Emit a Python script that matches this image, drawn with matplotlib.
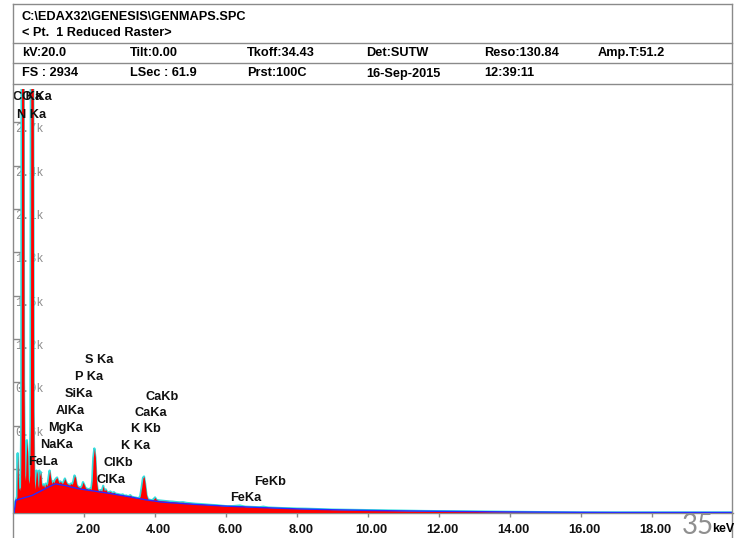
import matplotlib
matplotlib.use('Agg')
import matplotlib.pyplot as plt
from matplotlib.lines import Line2D
from matplotlib.transforms import ScaledTranslation, blended_transform_factory

# ---------------- data ----------------
energy = [0.00, 0.04, 0.06, 0.09, 0.12, 0.13, 0.14, 0.15, 0.17, 0.20, 0.22, 0.24, 0.25, 0.28, 0.31,
          0.32, 0.34, 0.36, 0.38, 0.40, 0.42, 0.44, 0.46, 0.48, 0.50, 0.51, 0.54, 0.58, 0.59, 0.61,
          0.63, 0.65, 0.67, 0.69, 0.71, 0.73, 0.75, 0.77, 0.79, 0.81, 0.84, 0.87, 0.90, 0.93, 0.96,
          0.99, 1.02, 1.04, 1.07, 1.10, 1.13, 1.16, 1.19, 1.22, 1.25, 1.28, 1.31, 1.34, 1.37, 1.40,
          1.43, 1.47, 1.50, 1.53, 1.56, 1.60, 1.64, 1.68, 1.71, 1.74, 1.77, 1.80, 1.83, 1.87, 1.91,
          1.95, 1.98, 2.01, 2.05, 2.09, 2.13, 2.17, 2.21, 2.24, 2.27, 2.30, 2.33, 2.36, 2.39, 2.43,
          2.47, 2.51, 2.55, 2.58, 2.62, 2.66, 2.70, 2.75, 2.80, 2.85, 2.90, 2.95, 3.00, 3.05, 3.10,
          3.15, 3.20, 3.25, 3.31, 3.36, 3.42, 3.48, 3.54, 3.59, 3.63, 3.67, 3.70, 3.73, 3.77, 3.81,
          3.86, 3.91, 3.96, 4.01, 4.05, 4.10, 4.18, 4.26, 4.34, 4.42, 4.50, 4.60, 4.70, 4.80, 4.90,
          5.00, 5.15, 5.30, 5.45, 5.60, 5.75, 5.90, 6.05, 6.20, 6.40, 6.55, 6.75, 6.95, 7.06, 7.20,
          7.40, 7.60, 7.80, 8.00, 8.25, 8.50, 8.75, 9.00, 9.25, 9.50, 9.80, 10.10, 10.40, 10.80, 11.20,
          11.60, 12.00, 12.50, 13.00, 13.50, 14.00, 14.50, 15.00, 15.50, 16.00, 20.48]
counts = [0, 0, 70, 85, 110, 300, 410, 300, 160, 175, 150, 600, 3100, 3400, 3100,
          900, 260, 220, 380, 500, 420, 230, 200, 260, 600, 3000, 3500, 3000, 700, 220,
          160, 230, 290, 270, 190, 170, 290, 250, 280, 200, 180, 195, 170, 200, 185,
          205, 260, 290, 240, 200, 215, 205, 225, 235, 242, 220, 205, 215, 208, 200,
          212, 235, 215, 200, 195, 190, 200, 195, 220, 256, 240, 195, 180, 175, 170,
          185, 210, 195, 170, 165, 160, 165, 160, 220, 380, 443, 380, 220, 160, 150,
          155, 148, 185, 150, 160, 142, 140, 145, 135, 140, 130, 128, 125, 122, 125,
          115, 118, 110, 120, 108, 105, 102, 98, 110, 170, 240, 249, 200, 120, 92,
          88, 85, 90, 104, 88, 84, 82, 80, 78, 76, 75, 72, 70, 71, 66,
          64, 60, 58, 55, 52, 50, 46, 43, 44, 48, 40, 38, 36, 40, 34,
          32, 30, 29, 27, 26, 24, 22, 20, 19, 18, 17, 16, 14, 13, 11,
          10, 9, 8, 7, 5, 4, 3, 2, 1, 0, 0]

bg_energy = [0.04, 0.09, 0.30, 0.55, 0.80, 1.00, 1.20, 1.50, 1.86, 2.30, 2.80, 3.30, 3.74,
             4.20, 5.00, 6.00, 7.00, 8.00, 9.00, 10.00, 12.00, 14.00, 16.00, 17.00, 20.48]
bg_counts = [0, 85, 100, 118, 150, 175, 198, 185, 164, 148, 129, 108, 88,
             72, 58, 44, 34, 25, 19, 14, 8, 4, 1, 0, 0]

peak_names = ['C Ka', 'O Ka', 'N Ka', 'FeLa', 'NaKa', 'MgKa', 'AlKa', 'SiKa', 'P Ka', 'S Ka',
              'ClKa', 'ClKb', 'K Ka', 'K Kb', 'CaKa', 'CaKb', 'FeKa', 'FeKb']
peak_energy = [0.277, 0.525, 0.392, 0.705, 1.041, 1.253, 1.486, 1.739, 2.013, 2.307,
               2.621, 2.815, 3.312, 3.589, 3.690, 4.012, 6.404, 7.058]
label_level = [2875, 2875, 2751, 349, 467, 585, 702, 820, 938, 1055,
               225, 343, 460, 578, 689, 799, 100, 211]

ytick_vals = [300, 600, 900, 1200, 1500, 1800, 2100, 2400, 2700]
ytick_labels = ['0.3k', '0.6k', '0.9k', '1.2k', '1.5k', '1.8k', '2.1k', '2.4k', '2.7k']
xtick_vals = [2, 4, 6, 8, 10, 12, 14, 16, 18]
xtick_labels = ['2.00', '4.00', '6.00', '8.00', '10.00', '12.00', '14.00', '16.00', '18.00']

title_lines = ['C:\\EDAX32\\GENESIS\\GENMAPS.SPC', '< Pt.  1 Reduced Raster>']
row1 = ['kV:20.0', 'Tilt:0.00', 'Tkoff:34.43', 'Det:SUTW', 'Reso:130.84', 'Amp.T:51.2']
row2 = ['FS : 2934', 'LSec : 61.9', 'Prst:100C', '16-Sep-2015', '12:39:11']
full_scale = 2934

# ---------------- layout ----------------
W, H = 740, 538
fig = plt.figure(figsize=(7.4, 5.38), dpi=100)
def fx(px): return px / W
def fy(py): return 1 - py / H

GRAY = '#8a8a8a'
SANS = ['Liberation Sans', 'DejaVu Sans']
HDR = 9.2

ax = fig.add_axes([fx(12.7), fy(513.2), (733 - 12.7) / W, (513.2 - 88.5) / H])
ax.set_xlim(0, 20.29)
ax.set_ylim(-5, full_scale)
for s in ['top', 'right', 'left']:
    ax.spines[s].set_visible(False)
ax.spines['bottom'].set_color(GRAY)
ax.spines['bottom'].set_linewidth(1.0)
ax.patch.set_alpha(0)

# spectrum
ax.plot(energy, counts, color='#33dddd', lw=1.6, zorder=2)
ax.fill_between(energy, 0, counts, color='#ff0000', lw=0, zorder=3)
ax.plot(bg_energy, bg_counts, color='#2a2aff', lw=1.0, zorder=4)

# y ticks
ax.set_yticks(ytick_vals)
ax.tick_params(axis='y', direction='in', length=5.5, width=1, color=GRAY, labelleft=False)
tr = blended_transform_factory(ax.transAxes, ax.transData)
for v, lab in zip(ytick_vals, ytick_labels):
    ax.text(0.003, v - 6, lab, transform=tr, va='top', ha='left', fontsize=8.6,
            family=['Liberation Mono', 'DejaVu Sans Mono'], color='#8c8c8c', zorder=1)

# x ticks
ax.set_xticks(xtick_vals)
ax.set_xticklabels(xtick_labels)
ax.tick_params(axis='x', direction='out', length=3, width=1, color=GRAY, pad=4.5)
for lab in ax.get_xticklabels():
    lab.set_fontsize(9.3)
    lab.set_fontweight('bold')
    lab.set_family(SANS)
    lab.set_color('#111111')
    lab.set_transform(lab.get_transform() + ScaledTranslation(4 / 100, 0, fig.dpi_scale_trans))

# peak labels
for name, e, lv in zip(peak_names, peak_energy, label_level):
    ax.annotate(name, xy=(e, lv), xytext=(-9.5, 0), textcoords='offset pixels',
                ha='left', va='center', fontsize=9.2, fontweight='bold', family=SANS,
                color='#111111', annotation_clip=False, zorder=6)

# frame lines
def hline(y, x0, x1):
    fig.add_artist(Line2D([fx(x0), fx(x1)], [fy(y), fy(y)], color=GRAY, lw=1.0))
def vline(x, y0, y1):
    fig.add_artist(Line2D([fx(x), fx(x)], [fy(y0), fy(y1)], color=GRAY, lw=1.0))
hline(3.5, 12.7, 732)
hline(42.5, 12.7, 732)
hline(62.5, 12.7, 732)
hline(83.5, 12.7, 732)
vline(12.7, 3.5, 538)
vline(732, 3.5, 538)

# header text
fig.text(fx(22), fy(17), title_lines[0], fontsize=HDR, fontweight='bold', family=SANS, va='center')
fig.text(fx(22), fy(33.5), title_lines[1], fontsize=HDR, fontweight='bold', family=SANS, va='center')
col_x = [22, 130, 247, 366, 484, 598]
for x, t in zip(col_x, row1):
    fig.text(fx(x), fy(53), t, fontsize=HDR, fontweight='bold', family=SANS, va='center')
for x, t in zip(col_x, row2):
    fig.text(fx(x), fy(73.5), t, fontsize=HDR, fontweight='bold', family=SANS, va='center')

fig.text(fx(682), fy(526), '35', fontsize=20, color='#8f8f8f', family=['Lato', 'DejaVu Sans'],
         va='center', ha='left')
fig.text(fx(712), fy(528.5), 'keV', fontsize=9, fontweight='bold', family=SANS, va='center', ha='left')

fig.savefig('out.png', dpi=100)
